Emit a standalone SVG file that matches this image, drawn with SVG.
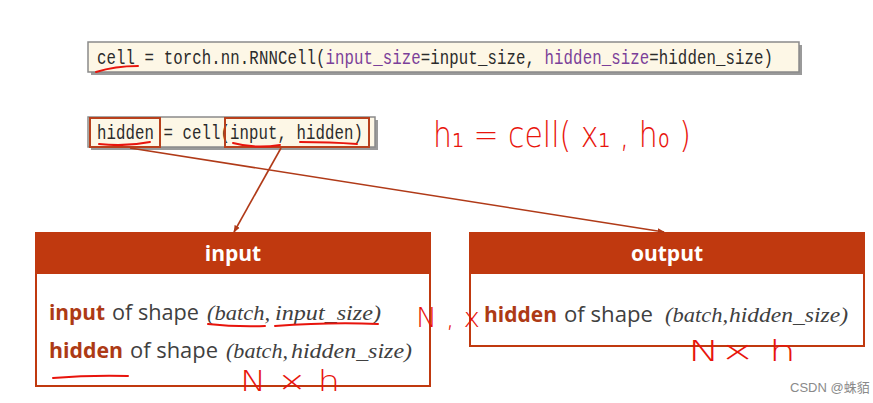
<svg xmlns="http://www.w3.org/2000/svg" width="873" height="403" viewBox="0 0 873 403">
<defs>
<style>
.code{font-family:"Liberation Mono",monospace;font-size:15.7px;fill:#2b2b2b}
.kw{fill:#7b3f99}
.codebox{fill:#fdf7e6;stroke:#8a8a8a;stroke-width:1.5}
.shadow{fill:#9a9a9a}
.hl{fill:none;stroke:#b8401c;stroke-width:2}
.box{fill:#ffffff;stroke:#c0390f;stroke-width:2}
.hdr{fill:#c0390f}
.title{font-family:"Open Sans","Noto Sans",sans-serif;font-weight:bold;font-size:21px;fill:#ffffff}
.body{font-family:"Open Sans","Noto Sans",sans-serif;font-size:21px;fill:#404040}
.bw{font-weight:bold;fill:#ad3a15}
.math{font-family:"Liberation Serif",serif;font-style:italic;font-size:22px;fill:#404040}
.conn{fill:none;stroke:#b03a18;stroke-width:1.6}
.ink{fill:none;stroke:#e8140c;stroke-width:2;stroke-linecap:round;stroke-linejoin:round}
.hand{font-family:"DejaVu Sans",sans-serif;font-weight:200;fill:#e8140c}
.wm{font-family:"Liberation Sans","Noto Sans CJK SC",sans-serif;font-size:13px;fill:#8a8a8a}
</style>
<marker id="arr" viewBox="0 0 10 10" refX="9" refY="5" markerWidth="4.5" markerHeight="4.5" orient="auto-start-reverse">
<path d="M0,1 L10,5 L0,9 z" fill="#b03a18"/>
</marker>
</defs>
<rect x="0" y="0" width="873" height="403" fill="#ffffff"/>

<g id="code1">
<rect class="shadow" x="91" y="45" width="711" height="30"/>
<rect class="codebox" x="88" y="42" width="711" height="30"/>
<g transform="translate(0,64) scale(1,1.25)">
<text class="code" x="97" y="0" textLength="676">cell = torch.nn.RNNCell(<tspan class="kw">input_size</tspan>=input_size, <tspan class="kw">hidden_size</tspan>=hidden_size)</text>
</g>
</g>

<g id="code2">
<rect class="shadow" x="91" y="120" width="287" height="30"/>
<rect class="codebox" x="88" y="117" width="287" height="30"/>
<g transform="translate(0,139) scale(1,1.25)">
<text class="code" x="97" y="0" textLength="266">hidden = cell(input, hidden)</text>
</g>
<rect class="hl" x="90" y="118" width="70" height="29"/>
<rect class="hl" x="225" y="118" width="144" height="29"/>
</g>

<g id="input">
<rect class="box" x="36" y="233" width="394" height="153"/>
<rect class="hdr" x="35" y="232" width="396" height="42"/>
<text class="title" x="233" y="261" text-anchor="middle">input</text>
<text class="body" y="320"><tspan class="bw" x="49" textLength="56" lengthAdjust="spacingAndGlyphs">input</tspan><tspan x="112" textLength="87" lengthAdjust="spacingAndGlyphs">of shape</tspan></text>
<text class="math" y="320"><tspan x="207" textLength="63" lengthAdjust="spacingAndGlyphs">(batch,</tspan><tspan x="275" textLength="106" lengthAdjust="spacingAndGlyphs">input_size)</tspan></text>
<text class="body" y="358"><tspan class="bw" x="49" textLength="74" lengthAdjust="spacingAndGlyphs">hidden</tspan><tspan x="130" textLength="88" lengthAdjust="spacingAndGlyphs">of shape</tspan></text>
<text class="math" y="358"><tspan x="226" textLength="62" lengthAdjust="spacingAndGlyphs">(batch,</tspan><tspan x="291" textLength="121" lengthAdjust="spacingAndGlyphs">hidden_size)</tspan></text>
</g>

<g id="output">
<rect class="box" x="470" y="233" width="394" height="113"/>
<rect class="hdr" x="469" y="232" width="396" height="42"/>
<text class="title" x="667" y="261" text-anchor="middle">output</text>
<text class="body" y="322"><tspan class="bw" x="484" textLength="73" lengthAdjust="spacingAndGlyphs">hidden</tspan><tspan x="564" textLength="89" lengthAdjust="spacingAndGlyphs">of shape</tspan></text>
<text class="math" y="322"><tspan x="665" textLength="63" lengthAdjust="spacingAndGlyphs">(batch,</tspan><tspan x="729" textLength="119" lengthAdjust="spacingAndGlyphs">hidden_size)</tspan></text>
</g>

<g id="connectors">
<path class="conn" d="M281,148 L234,232" marker-end="url(#arr)"/>
<path class="conn" d="M130,148 L664,232" marker-end="url(#arr)"/>
</g>

<g id="annotations">
<path class="ink" d="M96,72 Q115,66 138,66"/>
<path class="ink" d="M99,144 Q125,147 150,142"/>
<path class="ink" d="M233,143 Q255,149 280,145"/>
<path class="ink" d="M300,142 Q330,142 357,144"/>
<path class="ink" d="M208,324 Q235,327 265,326"/>
<path class="ink" d="M275,326 Q330,322 378,324"/>
<path class="ink" d="M53,378 Q90,375 128,376"/>
<text class="hand" x="433" y="147" font-size="36" textLength="258" lengthAdjust="spacingAndGlyphs">h₁ = cell( x₁ , h₀ )</text>
<text class="hand" x="416" y="327" font-size="26" textLength="64" lengthAdjust="spacingAndGlyphs">N , x</text>
<text class="hand" x="240" y="391" font-size="28" textLength="100" lengthAdjust="spacingAndGlyphs">N × h</text>
<text class="hand" x="688" y="361" font-size="28" textLength="108" lengthAdjust="spacingAndGlyphs">N×  h</text>
</g>

<text class="wm" x="790" y="392">CSDN @蛛貊</text>
</svg>
